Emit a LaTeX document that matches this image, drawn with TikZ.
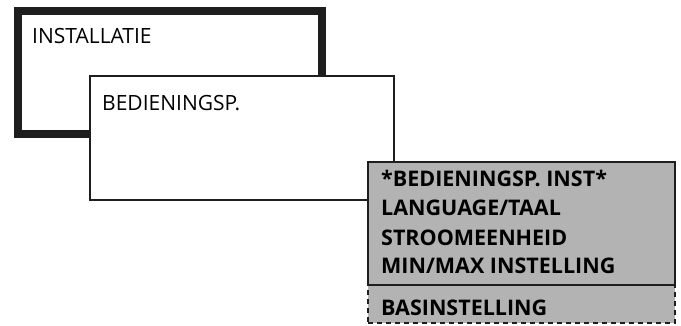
\documentclass[tikz,border=0pt]{standalone}
\usepackage{fontspec}
\setmainfont{Open Sans}
\usetikzlibrary{positioning}
\definecolor{menugray}{RGB}{179,179,179}
\definecolor{framegray}{RGB}{30,30,30}

\begin{document}
\begin{tikzpicture}[x=1pt,y=-1pt]
\tikzset{
  screen/.style={draw=framegray, fill=white, inner sep=0pt,
    minimum width=304pt, minimum height=123pt},
  menu/.style={draw=framegray, fill=menugray, inner sep=0pt, line width=1.8pt,
    minimum width=307pt},
  plain/.style={font=\fontsize{21}{25}\selectfont, anchor=base west, inner sep=0pt},
  item/.style={font=\fontsize{21.5}{25}\bfseries\selectfont, anchor=base west, inner sep=0pt}
}
\useasboundingbox (0,0) rectangle (681,325);
% Installatie screen
\node[screen, line width=8pt] (install) at (170,72.5) {};
\node[plain] (installtxt) at (32,43) {INSTALLATIE};
% Bedieningspaneel screen
\node[screen, line width=1.8pt, minimum height=124pt] (panel) at (242,138) {};
\node[plain] (paneltxt) at (102,110) {BEDIENINGSP.};
% menu with hidden item below
\node[menu, dash pattern=on 5pt off 4pt, minimum height=38pt] (more) at (521.5,304) {};
\node[menu, minimum height=123pt] (list) at (521.5,223.5) {};
\node[item] (l1) at (381,186) {*BEDIENINGSP. INST*};
\node[item] (l2) at (381,215) {LANGUAGE/TAAL};
\node[item] (l3) at (381,245) {STROOMEENHEID};
\node[item] (l4) at (381,273) {MIN/MAX INSTELLING};
\node[item] (l5) at (381,315) {BASINSTELLING};
\end{tikzpicture}
\end{document}
